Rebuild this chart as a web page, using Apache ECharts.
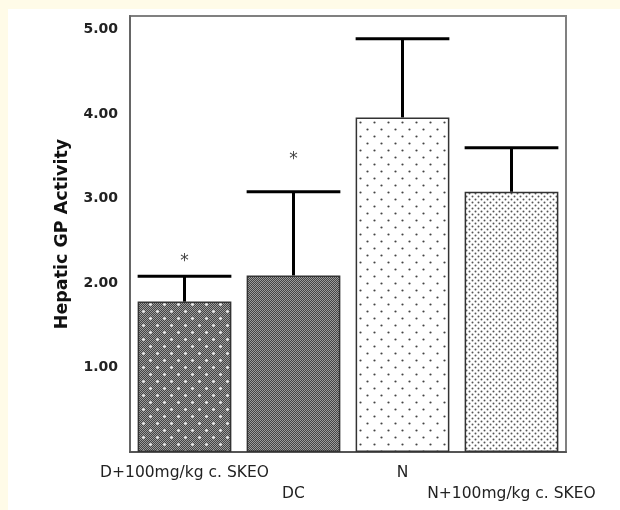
<!DOCTYPE html>
<html>
<head>
<meta charset="utf-8">
<script src="https://cdn.jsdelivr.net/npm/echarts@6/dist/echarts.min.js"></script>
<style>
	body { margin: 0; background: #fffbe8; }
	#chartBox { width: 620px; height: 510px; }
</style>
</head>
<body>
<div id="chartBox"></div>
<script>
// data
const categories = ['D+100mg/kg c. SKEO', 'DC', 'N', 'N+100mg/kg c. SKEO']
const meanValues = [1.78, 2.09, 3.96, 3.08]
const upperValues = [2.08, 3.08, 4.89, 3.60]
const starPoints = [[0, 2.30], [1, 3.51]]
const yTickValues = [1, 2, 3, 4, 5]

// fill patterns for the bars
const makePattern = (w, h, draw) => {
	const c = document.createElement('canvas')
	c.width = w
	c.height = h
	draw(c.getContext('2d'))
	return { image: c, repeat: 'repeat' }
}
const checker = (ctx, w, h) => {
	for (let x = 0; x < w; x++) {
		for (let y = 0; y < h; y++) {
			ctx.fillStyle = (x + y) % 2 ? '#444' : '#9c9c9c'
			ctx.fillRect(x, y, 1, 1)
		}
	}
}
const dots = (ctx, pts, color, r) => {
	ctx.fillStyle = color
	pts.forEach(p => {
		ctx.beginPath()
		ctx.arc(p[0], p[1], r, 0, Math.PI * 2)
		ctx.fill()
	})
}
const fills = [
	makePattern(14, 14, ctx => { checker(ctx, 14, 14); dots(ctx, [[3.5, 3.5], [10.5, 10.5]], '#ffffff', 1.3) }),
	makePattern(14, 14, ctx => { checker(ctx, 14, 14) }),
	makePattern(14, 14, ctx => { ctx.fillStyle = '#fff'; ctx.fillRect(0, 0, 14, 14); dots(ctx, [[3.5, 3.5], [10.5, 10.5]], '#444', 1.1) }),
	makePattern(6, 6, ctx => { ctx.fillStyle = '#fff'; ctx.fillRect(0, 0, 6, 6); dots(ctx, [[1.5, 1.5], [4.5, 4.5]], '#555', 1.0) }),
]

const chartBox = echarts.init(document.getElementById('chartBox'))
const option = {
	backgroundColor: '#fffbe8',
	animation: false,
	graphic: [{
		type: 'rect', z: -10, silent: true,
		shape: { x: 8, y: 9, width: 612, height: 501 },
		style: { fill: '#ffffff' },
	}],
	grid: { left: 130, right: 54, top: 16, bottom: 58, show: true, borderColor: '#808080', borderWidth: 2 },
	xAxis: {
		type: 'category',
		data: categories,
		boundaryGap: true,
		axisLine: { lineStyle: { color: '#555', width: 2 } },
		axisTick: { alignWithLabel: true, length: 6, lineStyle: { color: '#222', width: 2 } },
		axisLabel: {
			interval: 0,
			margin: 10,
			color: '#222',
			fontFamily: 'DejaVu Sans',
			fontSize: 15.5,
			lineHeight: 21,
			formatter: (v, i) => i % 2 ? '\n' + v : v,
		},
	},
	yAxis: {
		type: 'value',
		min: 0,
		max: 5.16,
		name: 'Hepatic GP Activity',
		nameLocation: 'middle',
		nameGap: 59,
		nameTextStyle: { fontFamily: 'DejaVu Sans', fontWeight: 'bold', fontSize: 17.5, color: '#111' },
		splitLine: { show: false },
		axisLine: { show: true, lineStyle: { color: '#666', width: 2 } },
		axisTick: { customValues: yTickValues, length: 7, lineStyle: { color: '#222', width: 2 } },
		axisLabel: {
			customValues: yTickValues,
			margin: 12,
			color: '#222',
			fontFamily: 'DejaVu Sans',
			fontWeight: 'bold',
			fontSize: 14,
			formatter: v => v.toFixed(2),
		},
	},
	series: [
		{
			type: 'bar',
			barWidth: '86%',
			data: meanValues.map((v, i) => ({
				value: v,
				itemStyle: { color: fills[i], borderColor: '#333', borderWidth: 1.5 },
			})),
		},
		{
			type: 'custom',
			z: 5,
			data: meanValues.map((v, i) => [i, v, upperValues[i]]),
			renderItem: (params, api) => {
				const base = api.coord([api.value(0), api.value(1)])
				const top = api.coord([api.value(0), api.value(2)])
				const half = api.size([1, 0])[0] * 0.86 / 2
				const style = { stroke: '#000', lineWidth: 3 }
				return {
					type: 'group',
					children: [
						{ type: 'line', shape: { x1: base[0], y1: base[1], x2: top[0], y2: top[1] }, style },
						{ type: 'line', shape: { x1: top[0] - half, y1: top[1], x2: top[0] + half, y2: top[1] }, style },
					],
				}
			},
		},
		{
			type: 'scatter',
			symbolSize: 0,
			data: starPoints,
			label: {
				show: true,
				position: 'inside',
				formatter: '*',
				offset: [0, 4],
				color: '#111',
				fontFamily: 'DejaVu Sans',
				fontSize: 17,
			},
		},
	],
}
chartBox.setOption(option)
</script>
</body>
</html>
